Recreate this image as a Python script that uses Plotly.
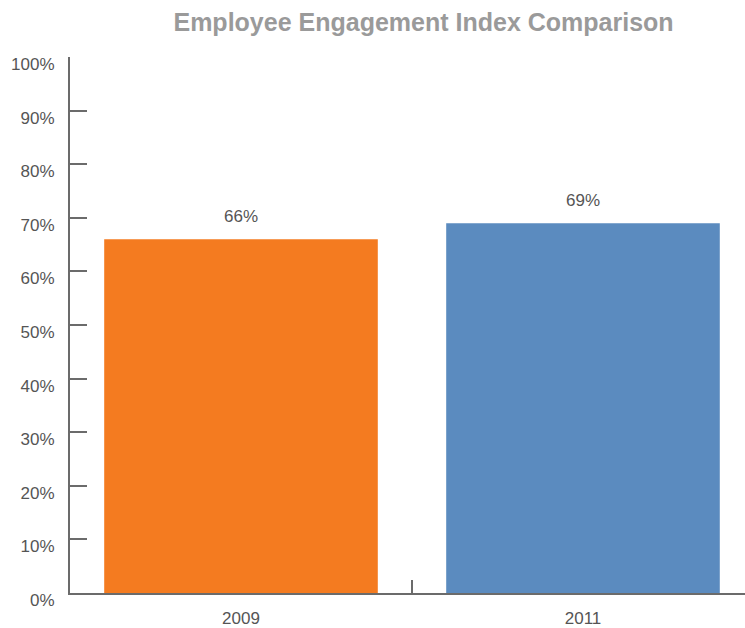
import plotly.graph_objects as go

# Engagement index by survey year
years = ["2009", "2011"]
engagement_pct = [66, 69]
bar_colors = ["#F47B20", "#5B8BBF"]
y_ticks = [0, 10, 20, 30, 40, 50, 60, 70, 80, 90, 100]
y_tick_labels = [f"{v}%" for v in y_ticks]

FONT = "Liberation Sans, Arial, sans-serif"
AXIS_GREY = "#6b6b6b"
TEXT_GREY = "#555555"

fig = go.Figure(
    go.Bar(
        x=years,
        y=engagement_pct,
        marker=dict(color=bar_colors, line=dict(width=0)),
        width=0.8,
        hoverinfo="x+y",
    )
)

# Value labels above each bar (category axis positions by index)
for i, val in enumerate(engagement_pct):
    fig.add_annotation(
        x=i, y=val, text=f"{val}%", showarrow=False,
        xref="x", yref="y",
        yanchor="bottom", yshift=11,
        font=dict(family=FONT, size=17, color=TEXT_GREY),
    )

fig.update_layout(
    width=745,
    height=628,
    margin=dict(l=70, r=0, t=57, b=35, pad=0, autoexpand=False),
    paper_bgcolor="white",
    plot_bgcolor="white",
    showlegend=False,
    title=dict(
        text="<b>Employee Engagement Index Comparison</b>",
        x=0.5685, xanchor="center", y=0.964, yanchor="middle",
        font=dict(family=FONT, size=25, color="#9a9a9a"),
    ),
    font=dict(family=FONT, size=17, color=TEXT_GREY),
    bargap=0.2,
)

fig.update_xaxes(
    type="category",
    range=[-0.5, 1.4737],
    automargin=False,
    showline=True, linecolor=AXIS_GREY, linewidth=2,
    ticks="inside", tickson="boundaries", ticklen=13, tickwidth=2,
    tickcolor=AXIS_GREY,
    showgrid=False, zeroline=False,
    tickfont=dict(family=FONT, size=17, color=TEXT_GREY),
    ticklabelstandoff=9,
)

fig.update_yaxes(
    range=[0, 100],
    automargin=False,
    tickvals=y_ticks, ticktext=y_tick_labels,
    showline=True, linecolor=AXIS_GREY, linewidth=2,
    ticks="inside", ticklen=17, tickwidth=2, tickcolor=AXIS_GREY,
    showgrid=False, zeroline=False,
    tickfont=dict(family=FONT, size=17, color=TEXT_GREY),
    ticklabelstandoff=10,
    ticklabelshift=7,
)

fig.write_html("out.html")
